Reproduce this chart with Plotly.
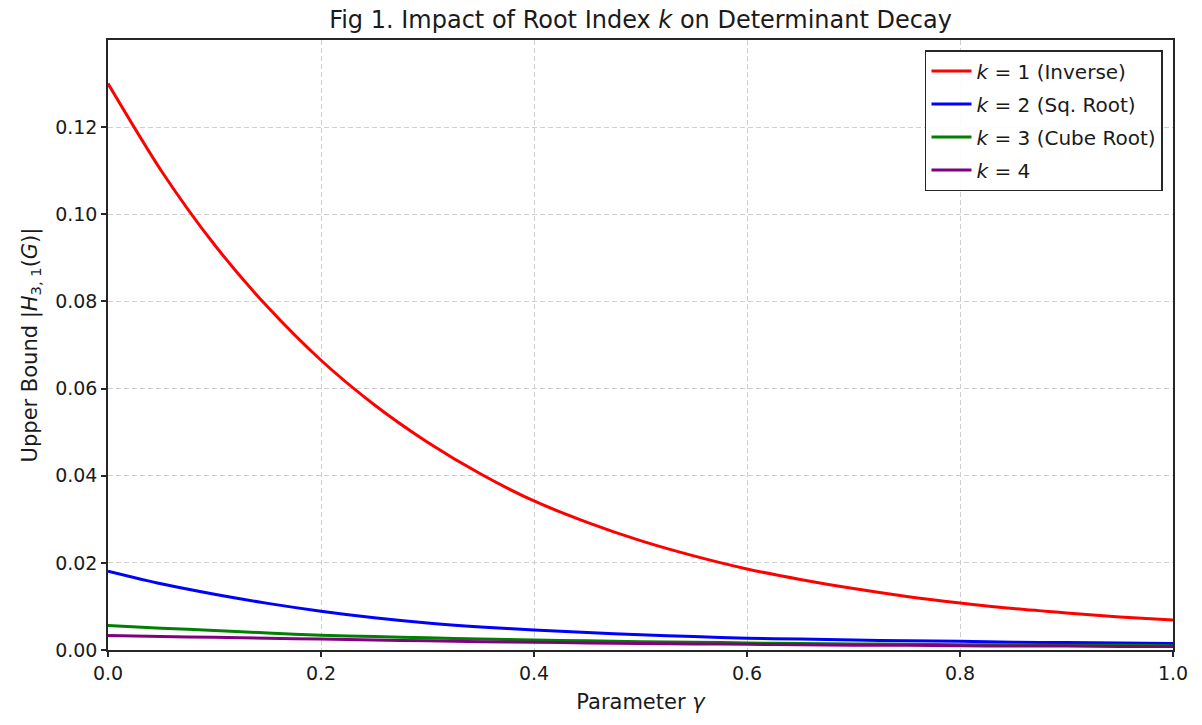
import plotly.graph_objects as go

gamma = [0.0, 0.05, 0.10, 0.15, 0.20, 0.25, 0.30, 0.35, 0.40, 0.45, 0.50,
         0.55, 0.60, 0.65, 0.70, 0.75, 0.80, 0.85, 0.90, 0.95, 1.00]

k1_inverse = [0.1300, 0.1100, 0.0930, 0.0787, 0.0665, 0.0563, 0.0477, 0.0404, 0.0342, 0.0293, 0.0251,
              0.0216, 0.0186, 0.0162, 0.0141, 0.0123, 0.0108, 0.0095, 0.0085, 0.0076, 0.0069]
k2_sqroot = [0.0181, 0.0152, 0.0128, 0.0107, 0.0089, 0.0074, 0.0062, 0.0053, 0.0046, 0.0040, 0.0035,
             0.0031, 0.0027, 0.0025, 0.0023, 0.0021, 0.0020, 0.0018, 0.0017, 0.0016, 0.0015]
k3_cuberoot = [0.0056, 0.0050, 0.0045, 0.0039, 0.0034, 0.0031, 0.0028, 0.0025, 0.0023, 0.0021, 0.0019,
               0.0018, 0.0016, 0.0015, 0.0014, 0.0013, 0.0012, 0.0012, 0.0011, 0.0011, 0.0010]
k4 = [0.0033, 0.0031, 0.0029, 0.0027, 0.0025, 0.0023, 0.0021, 0.0019, 0.0018, 0.0016, 0.0015,
      0.0014, 0.0013, 0.0012, 0.0011, 0.0011, 0.0010, 0.0009, 0.0009, 0.0008, 0.0008]

series_names = ["<i>k</i> = 1 (Inverse)", "<i>k</i> = 2 (Sq. Root)",
                "<i>k</i> = 3 (Cube Root)", "<i>k</i> = 4"]
series_colors = ["#ff0000", "#0000ff", "#008000", "#800080"]

x_ticks = [0.0, 0.2, 0.4, 0.6, 0.8, 1.0]
x_ticklabels = ["0.0", "0.2", "0.4", "0.6", "0.8", "1.0"]
y_ticks = [0.0, 0.02, 0.04, 0.06, 0.08, 0.10, 0.12]
y_ticklabels = ["0.00", "0.02", "0.04", "0.06", "0.08", "0.10", "0.12"]

FONT = "DejaVu Sans"
AX = "#262626"
W, H = 1194, 717  # page body has an 8px default margin

fig = go.Figure()
for i, (name, ys, col) in enumerate(zip(series_names,
                                         [k1_inverse, k2_sqroot, k3_cuberoot, k4],
                                         series_colors)):
    fig.add_trace(go.Scatter(x=gamma, y=ys, mode="lines", name=name,
                             legendgroup=f"g{i}",
                             line=dict(color=col, width=3, shape="spline", smoothing=0.8)))

fig.update_layout(
    width=W, height=H,
    margin=dict(l=100, r=29, t=32, b=75),
    paper_bgcolor="white", plot_bgcolor="white",
    font=dict(family=FONT, size=19, color="#1a1a1a"),
    title=dict(text="Fig 1. Impact of Root Index <i>k</i> on Determinant Decay",
               x=0.5, xref="paper", xanchor="center", y=1 - 12 / H, yanchor="middle",
               font=dict(family=FONT, size=24, color="#1a1a1a")),
    showlegend=True,
    legend=dict(x=0.9906, y=0.9836, xanchor="right", yanchor="top",
                bgcolor="rgba(255,255,255,0.9)", bordercolor=AX, borderwidth=1.5,
                font=dict(family=FONT, size=20, color="#1a1a1a"),
                itemwidth=40, tracegroupgap=4),
)

fig.update_xaxes(
    range=[0, 1], tickvals=x_ticks, ticktext=x_ticklabels,
    showline=True, linecolor=AX, linewidth=1.5, mirror=True,
    ticks="outside", ticklen=5, tickwidth=1.5, tickcolor=AX,
    showgrid=True, gridcolor="#cfcfcf", gridwidth=1, griddash="5px,3px",
    zeroline=False, automargin=False,
    title=dict(text="Parameter <i>γ</i>", standoff=12, font=dict(size=21)),
)
fig.update_yaxes(
    range=[0, 0.14], tickvals=y_ticks, ticktext=y_ticklabels,
    showline=True, linecolor=AX, linewidth=1.5, mirror=True,
    ticks="outside", ticklen=5, tickwidth=1.5, tickcolor=AX,
    showgrid=True, gridcolor="#cfcfcf", gridwidth=1, griddash="5px,3px",
    zeroline=False, automargin=False,
    title=dict(text="Upper Bound |<i>H</i><sub>3, 1</sub>(<i>G</i>)|", standoff=12, font=dict(size=21)),
)

fig.write_html("out.html")
